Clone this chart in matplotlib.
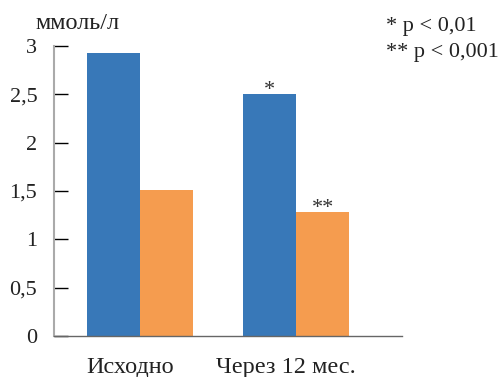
import matplotlib.pyplot as plt
import numpy as np

categories = ["Исходно", "Через 12 мес."]
blue_values = [2.93, 2.50]
orange_values = [1.51, 1.28]
blue_marks = ["", "*"]
orange_marks = ["", "**"]
yticks = [0, 0.5, 1, 1.5, 2, 2.5, 3]
ytick_labels = ["0", "0,5", "1", "1,5", "2", "2,5", "3"]

BLUE = "#3878b8"
ORANGE = "#f59c4f"
TXT = "#222222"

plt.rcParams["font.family"] = ["Liberation Serif", "DejaVu Serif"]

fig = plt.figure(figsize=(4.99, 3.77), dpi=100)
ax = fig.add_axes([0.1082, 0.1088, 0.6974, 0.769])

x = np.arange(len(categories))
w = 0.34
ax.bar(x - w / 2, blue_values, w, color=BLUE, zorder=2)
ax.bar(x + w / 2, orange_values, w, color=ORANGE, zorder=2)

# significance stars just above the bars
for xs, vals, marks in [(x - w / 2, blue_values, blue_marks),
                        (x + w / 2, orange_values, orange_marks)]:
    for xi, v, m in zip(xs, vals, marks):
        if m:
            ax.text(xi, v + 0.04, m, ha="center", va="center",
                    fontsize=16, color="#333333")

ax.set_xlim(-0.551, 1.679)
ax.set_ylim(0, 3)
ax.set_yticks(yticks)
ax.set_yticklabels(ytick_labels, fontsize=16, color=TXT)
ax.set_xticks(x - 0.064)
ax.set_xticklabels(categories, fontsize=17.5, color=TXT)
ax.tick_params(axis="y", direction="in", length=10, width=1, color="black", pad=12)
ax.tick_params(axis="x", length=0, pad=15)

for s in ["top", "right"]:
    ax.spines[s].set_visible(False)
ax.spines["left"].set_color("#aaaaaa")
ax.spines["left"].set_linewidth(1.5)
ax.spines["bottom"].set_color("#666666")
ax.spines["bottom"].set_linewidth(1)

fig.text(78 / 499, 1 - 29 / 377, "ммоль/л", ha="center", va="baseline",
         fontsize=17.5, color=TXT)
fig.text(386 / 499, 1 - 31 / 377, "* p < 0,01", ha="left", va="baseline",
         fontsize=16, color=TXT)
fig.text(386 / 499, 1 - 57 / 377, "** p < 0,001", ha="left", va="baseline",
         fontsize=16, color=TXT)

fig.savefig("out.png", dpi=100)
